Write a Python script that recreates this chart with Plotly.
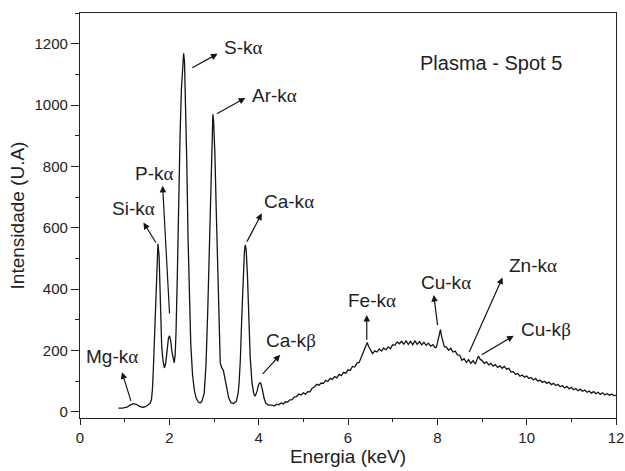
import plotly.graph_objects as go

# ---------------- data ----------------
energy_peaks = [0.86, 0.95, 1.05, 1.12, 1.20, 1.27, 1.33, 1.40, 1.47, 1.53, 1.57, 1.60,
                1.62, 1.64, 1.66, 1.68, 1.70, 1.72, 1.745, 1.77, 1.79, 1.81, 1.83, 1.86,
                1.89, 1.92, 1.95, 1.98, 2.005, 2.03, 2.06, 2.09, 2.11, 2.13,
                2.15, 2.18, 2.21, 2.24, 2.27, 2.30, 2.32, 2.34, 2.36, 2.39, 2.42, 2.45,
                2.48, 2.52, 2.56, 2.60, 2.65, 2.69, 2.73, 2.78, 2.82, 2.86, 2.90, 2.93,
                2.96, 2.975, 2.99, 3.02, 3.05, 3.08, 3.10, 3.12, 3.14, 3.17, 3.21, 3.25,
                3.29, 3.33, 3.38, 3.44, 3.50, 3.54, 3.56, 3.59, 3.62, 3.65, 3.68, 3.70,
                3.72, 3.75, 3.78, 3.81, 3.85, 3.89, 3.92, 3.96, 4.00, 4.04, 4.08, 4.12,
                4.16, 4.22, 4.27]
counts_peaks = [12, 12, 15, 22, 27, 24, 18, 15, 17, 22, 28, 40,
                70, 130, 210, 300, 400, 490, 548, 510, 400, 290, 210, 165,
                143, 160, 200, 240, 248, 232, 195, 165, 160, 185,
                260, 450, 700, 900, 1050, 1150, 1169, 1140, 1030, 820, 560, 360,
                220, 120, 70, 45, 32, 29, 35, 60, 150, 330, 560, 800,
                955, 970, 950, 840, 660, 470, 350, 230, 160, 145, 135, 105,
                70, 45, 30, 27, 35, 60, 90, 170, 300, 430, 520, 544,
                530, 440, 300, 180, 95, 60, 51, 65, 90, 96, 75, 45,
                28, 22, 22]

energy_cont = [4.30, 4.35, 4.40, 4.45, 4.50, 4.55, 4.60, 4.65, 4.70, 4.75, 4.80, 4.85,
               4.90, 4.95, 5.00, 5.05, 5.10, 5.15, 5.20, 5.25, 5.30, 5.35, 5.40, 5.45,
               5.50, 5.55, 5.60, 5.65, 5.70, 5.75, 5.80, 5.85, 5.90, 5.95, 6.00, 6.05,
               6.10, 6.15, 6.20, 6.25, 6.30, 6.35, 6.40, 6.43, 6.46, 6.50, 6.55, 6.60,
               6.65, 6.70, 6.75, 6.80, 6.85, 6.90, 6.95, 7.00, 7.05, 7.10, 7.15, 7.20,
               7.25, 7.30, 7.35, 7.40, 7.45, 7.50, 7.55, 7.60, 7.65, 7.70, 7.75, 7.80,
               7.85, 7.90, 7.95, 7.98, 8.01, 8.04, 8.07, 8.10, 8.13, 8.16, 8.20, 8.25,
               8.30, 8.35, 8.40, 8.45, 8.50, 8.55, 8.60, 8.65, 8.70, 8.75, 8.80, 8.85,
               8.88, 8.92, 8.96, 9.00, 9.05, 9.10, 9.15, 9.20, 9.25, 9.30, 9.35, 9.40,
               9.45, 9.50, 9.55, 9.60, 9.65, 9.70, 9.75, 9.80, 9.85, 9.90, 9.95, 10.00,
               10.05, 10.10, 10.15, 10.20, 10.25, 10.30, 10.35, 10.40, 10.45, 10.50, 10.55, 10.60,
               10.65, 10.70, 10.75, 10.80, 10.85, 10.90, 10.95, 11.00, 11.05, 11.10, 11.15, 11.20,
               11.25, 11.30, 11.35, 11.40, 11.45, 11.50, 11.55, 11.60, 11.65, 11.70, 11.75, 11.80,
               11.85, 11.90, 11.95, 12.00]
counts_cont = [22, 19, 25, 23, 29, 26, 33, 32, 39, 40, 49, 50,
               58, 55, 62, 58, 66, 65, 78, 81, 90, 87, 94, 93,
               103, 99, 109, 106, 115, 111, 122, 118, 129, 126, 137, 135,
               148, 146, 159, 161, 181, 198, 221, 226, 214, 203, 190, 199,
               195, 205, 198, 208, 202, 212, 206, 219, 217, 228, 222, 230,
               221, 231, 220, 230, 219, 231, 220, 229, 218, 227, 217, 224,
               214, 219, 209, 211, 228, 248, 268, 243, 226, 212, 212, 201,
               207, 195, 198, 186, 185, 168, 173, 161, 170, 158, 167, 156,
               167, 182, 171, 168, 158, 163, 153, 158, 149, 154, 145, 150,
               142, 148, 139, 142, 130, 131, 122, 125, 116, 120, 113, 117,
               109, 112, 104, 109, 100, 104, 96, 100, 93, 97, 89, 93,
               86, 90, 82, 86, 78, 83, 75, 80, 72, 76, 69, 74,
               67, 71, 64, 68, 61, 66, 59, 64, 57, 62, 55, 60,
               54, 58, 53, 54]

energy = energy_peaks + energy_cont
counts = counts_peaks + counts_cont

# labels: text, text position (x, y, anchor), arrow tail (x, y), arrow head (x, y)
ALPHA = "<span style=\"font-family:'Liberation Serif'\">α</span>"
BETA = "<span style=\"font-family:'Liberation Serif'\">β</span>"
label_texts = ["S-k" + ALPHA, "Ar-k" + ALPHA, "P-k" + ALPHA, "Si-k" + ALPHA,
               "Ca-k" + ALPHA, "Ca-k" + BETA, "Mg-k" + ALPHA, "Fe-k" + ALPHA,
               "Cu-k" + ALPHA, "Zn-k" + ALPHA, "Cu-k" + BETA]
label_x = [3.17, 3.80, 1.19, 0.68, 4.07, 4.11, 0.10, 5.96, 7.58, 9.57, 9.82]
label_y = [1189, 1032, 777, 663, 685, 232, 181, 362, 421, 476, 268]
tail_x = [2.48, 3.03, 2.006, 1.72, 3.72, 4.06, 1.15, 6.42, 8.01, 8.70, 8.96]
tail_y = [1119, 969, 316, 547, 550, 119, 31, 230, 278, 190, 183]
head_x = [3.08, 3.70, 1.85, 1.42, 4.07, 4.48, 0.94, 6.42, 7.92, 9.46, 9.71]
head_y = [1167, 1023, 737, 617, 647, 186, 129, 316, 381, 438, 248]

x_ticks = [0, 2, 4, 6, 8, 10, 12]
y_ticks = [0, 200, 400, 600, 800, 1000, 1200]

FONT = "Liberation Sans, Arial, sans-serif"

fig = go.Figure()
fig.add_trace(go.Scatter(x=energy, y=counts, mode="lines",
                         line=dict(color="#151515", width=1.3),
                         showlegend=False, hoverinfo="skip"))

for t, lx, ly in zip(label_texts, label_x, label_y):
    fig.add_annotation(x=lx, y=ly, xref="x", yref="y", text=t, showarrow=False,
                       xanchor="left", yanchor="middle",
                       font=dict(family=FONT, size=19, color="#222"))

for tx, ty, hx, hy in zip(tail_x, tail_y, head_x, head_y):
    fig.add_annotation(x=hx, y=hy, ax=tx, ay=ty, xref="x", yref="y",
                       axref="x", ayref="y", text="", showarrow=True,
                       arrowhead=2, arrowsize=1.1, arrowwidth=1.2,
                       arrowcolor="#151515", standoff=0, startstandoff=0)

fig.add_annotation(x=7.57, y=1137, xref="x", yref="y", text="Plasma - Spot 5",
                   showarrow=False, xanchor="left", yanchor="middle",
                   font=dict(family=FONT, size=20, color="#222"))

axis_common = dict(showline=True, linecolor="#222", linewidth=1.3, mirror=True,
                   showgrid=False, zeroline=False, ticks="outside",
                   tickcolor="#222", tickwidth=1.2, automargin=False,
                   ticklabeloverflow="allow",
                   tickfont=dict(family=FONT, size=15, color="#222"))

fig.update_xaxes(range=[0, 12], tickvals=x_ticks, ticklen=6,
                 minor=dict(ticks="outside", ticklen=3, dtick=1, tickcolor="#222", tickwidth=1.2),
                 title=dict(text="Energia (keV)", font=dict(family=FONT, size=19, color="#222"),
                            standoff=2),
                 **axis_common)
fig.update_yaxes(range=[-20, 1300], tickvals=y_ticks, ticklen=8,
                 minor=dict(ticks="outside", ticklen=4, dtick=100, tickcolor="#222", tickwidth=1.2),
                 title=dict(text="Intensidade (U.A)", font=dict(family=FONT, size=19, color="#222"),
                            standoff=4),
                 **axis_common)

fig.update_layout(width=625, height=471, plot_bgcolor="white", paper_bgcolor="white",
                  margin=dict(l=80, r=9, t=13, b=53),
                  font=dict(family=FONT, color="#222"))

# remove the page's default body margin so the figure fills the window exactly
fig.write_html("out.html", config={"displayModeBar": False},
               post_script="document.body.style.margin='0px';document.body.style.overflow='hidden';")
